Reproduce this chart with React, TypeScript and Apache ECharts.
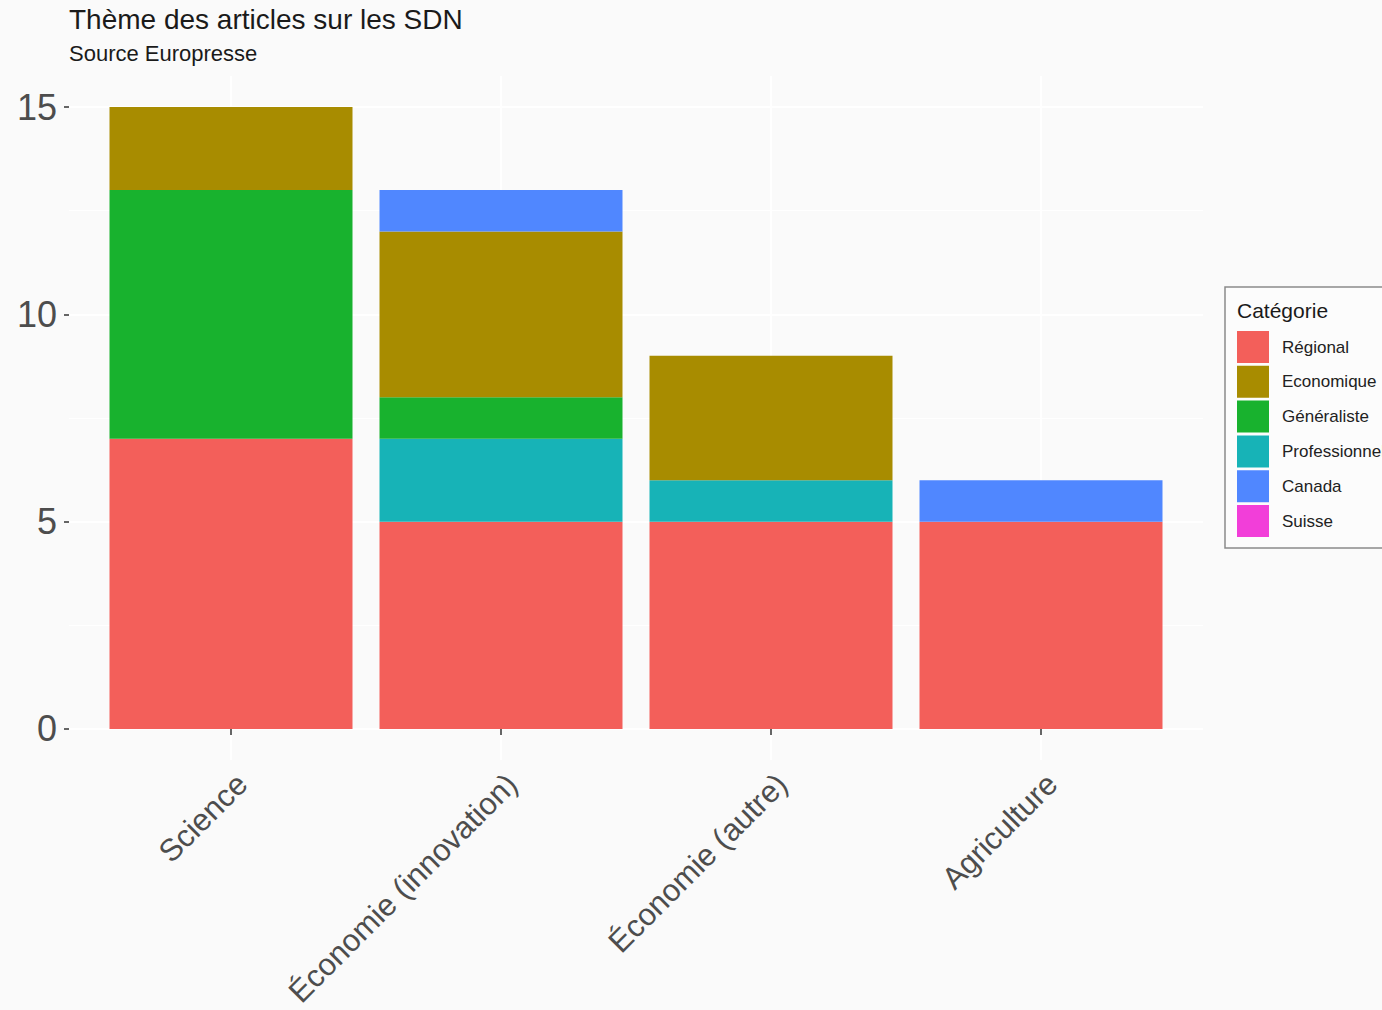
import React, { useEffect, useRef } from "react";
import * as echarts from "echarts";

const categories = ["Science", "Économie (innovation)", "Économie (autre)", "Agriculture"];
const catPositions = [1, 2, 3, 4];
const legendOrder = ["Régional", "Economique", "Généraliste", "Professionnel", "Canada", "Suisse"];
// stacking order bottom -> top
const stackOrder = ["Régional", "Professionnel", "Généraliste", "Economique", "Canada", "Suisse"];
const regional = [7, 5, 5, 5];
const professionnel = [0, 2, 1, 0];
const generaliste = [6, 1, 0, 0];
const economique = [2, 4, 3, 0];
const canada = [0, 1, 0, 1];
const suisse = [0, 0, 0, 0];
const yTicks = [0, 5, 10, 15];
const yMinor = [2.5, 7.5, 12.5];

const valuesByName: Record<string, number[]> = {
  "Régional": regional,
  "Professionnel": professionnel,
  "Généraliste": generaliste,
  "Economique": economique,
  "Canada": canada,
  "Suisse": suisse,
};
const colors: Record<string, string> = {
  "Régional": "#F35F5A",
  "Economique": "#A88C00",
  "Généraliste": "#18B22E",
  "Professionnel": "#17B3B7",
  "Canada": "#5087FF",
  "Suisse": "#F23ED9",
};

const FONT = "'Liberation Sans', Arial, Helvetica, sans-serif";
const Y_MIN = -0.75;
const Y_MAX = 15.75;

export default function App() {
  const ref = useRef<HTMLDivElement>(null);
  useEffect(() => {
    if (!ref.current) return;
    const chart = echarts.init(ref.current, null, { renderer: "svg" });
    const barSeries: any[] = stackOrder.map((name) => ({
      name,
      type: "bar",
      stack: "total",
      xAxisIndex: 1,
      yAxisIndex: 1,
      barCategoryGap: "10%",
      itemStyle: { color: colors[name] },
      data: valuesByName[name],
      z: 3,
    }));
    const gridSeries = {
      type: "scatter",
      xAxisIndex: 0,
      yAxisIndex: 0,
      data: [],
      silent: true,
      markLine: {
        silent: true,
        symbol: "none",
        z: 1,
        label: { show: false },
        lineStyle: { color: "#ffffff", width: 1, type: "solid" },
        data: yMinor.map((v) => ({ yAxis: v })),
      },
    };
    chart.setOption({
      animation: false,
      backgroundColor: "#fafafa",
      textStyle: { fontFamily: FONT },
      title: {
        text: "Thème des articles sur les SDN",
        subtext: "Source Europresse",
        left: 69,
        top: 5,
        padding: 0,
        itemGap: 9,
        textStyle: { fontFamily: FONT, fontSize: 28, fontWeight: "normal", color: "#1a1a1a", lineHeight: 28 },
        subtextStyle: { fontFamily: FONT, fontSize: 22, color: "#1a1a1a", lineHeight: 22 },
      },
      grid: [
        { left: 69, right: 179, top: 76, bottom: 250, containLabel: false, outerBoundsMode: "none" },
        { left: 96, right: 206, top: 76, bottom: 250, containLabel: false, outerBoundsMode: "none" },
      ],
      xAxis: [
        {
          type: "value",
          gridIndex: 0,
          min: 0.4,
          max: 4.6,
          axisLine: { show: false },
          axisTick: { show: true, length: 6, lineStyle: { color: "#333", width: 1.5 }, customValues: catPositions },
          axisLabel: {
            customValues: catPositions,
            rotate: 45,
            verticalAlign: "top",
            margin: 8,
            fontSize: 31,
            color: "#4d4d4d",
            fontFamily: FONT,
            formatter: (v: number) => categories[Math.round(v) - 1] ?? "",
          },
          splitLine: { show: true, lineStyle: { color: "#ffffff", width: 2 } },
        },
        {
          type: "category",
          gridIndex: 1,
          data: categories,
          boundaryGap: true,
          show: false,
        },
      ],
      yAxis: [
        {
          type: "value",
          gridIndex: 0,
          min: Y_MIN,
          max: Y_MAX,
          axisLine: { show: false },
          axisTick: { show: true, length: 5, lineStyle: { color: "#333", width: 1.5 }, customValues: yTicks },
          axisLabel: { customValues: yTicks, margin: 12, fontSize: 36, color: "#4d4d4d", fontFamily: FONT },
          splitLine: { show: true, lineStyle: { color: "#ffffff", width: 2 } },
        },
        {
          type: "value",
          gridIndex: 1,
          min: Y_MIN,
          max: Y_MAX,
          show: false,
          splitLine: { show: false },
        },
      ],
      legend: {
        data: legendOrder,
        orient: "vertical",
        left: 1237,
        top: 331,
        padding: 0,
        itemWidth: 32,
        itemHeight: 32,
        itemGap: 2.8,
        icon: "rect",
        selectedMode: false,
        textStyle: { fontFamily: FONT, fontSize: 17, color: "#222", padding: [0, 0, 0, 8] },
      },
      graphic: [
        {
          type: "rect",
          z: -1,
          shape: { x: 1225, y: 287, width: 220, height: 261 },
          style: { fill: "#fcfcfc", stroke: "#8a8a8a", lineWidth: 1.5 },
          silent: true,
        },
        {
          type: "text",
          x: 1237,
          y: 310,
          style: { text: "Catégorie", fontFamily: FONT, fontSize: 21, fill: "#1a1a1a", verticalAlign: "middle" },
          silent: true,
        },
      ],
      series: [gridSeries, ...barSeries],
    });
    return () => chart.dispose();
  }, []);
  return <div ref={ref} style={{ position: "fixed", left: 0, top: 0, width: 1382, height: 1010 }} />;
}
